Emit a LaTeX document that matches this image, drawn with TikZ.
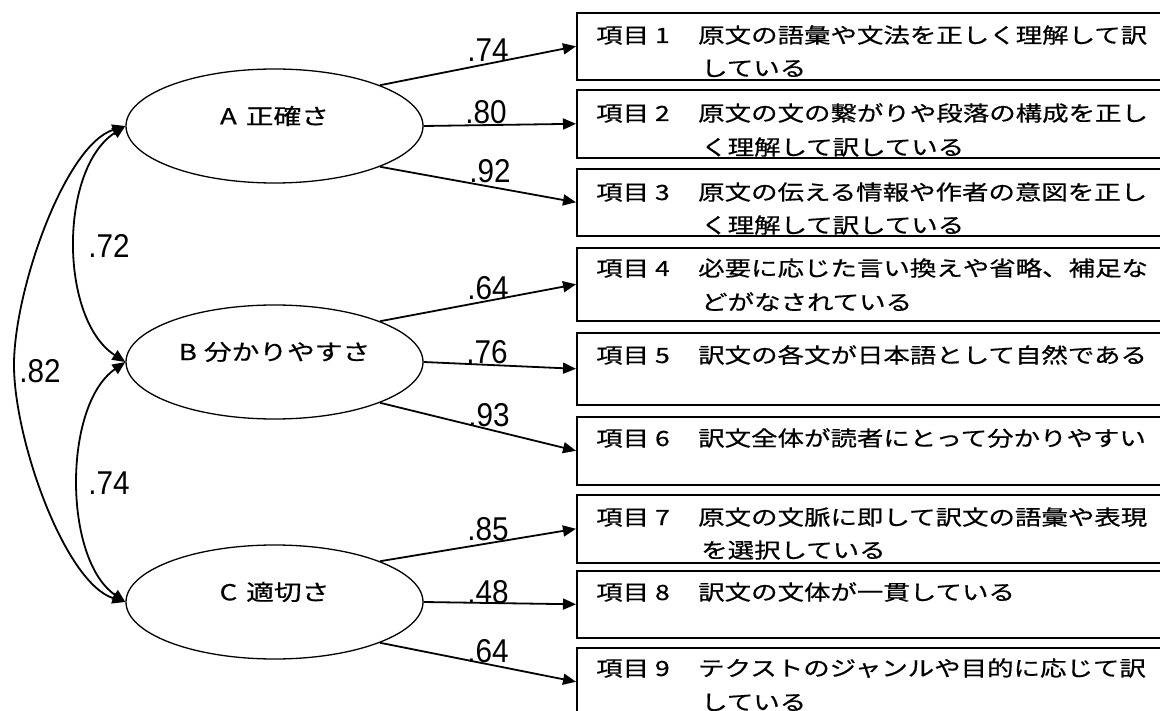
\documentclass[tikz,border=0pt]{standalone}
\usepackage{fontspec}
\setmainfont{Noto Sans CJK JP}[FakeStretch=1.26,FakeBold=0.6]
\newfontfamily\numfont{Liberation Sans}[FakeStretch=0.9]
\usetikzlibrary{arrows.meta,shapes.geometric}
\tikzset{
 ell/.style={draw, ellipse, line width=1.3pt, minimum width=297pt, minimum height=114pt, inner sep=0pt},
 itembox/.style={draw, rectangle, line width=1.6pt, minimum width=640pt, anchor=north west, inner sep=0pt},
 arr/.style={line width=1.8pt, -{Triangle[length=13pt,width=11pt]}},
 dbl/.style={line width=1.8pt, {Triangle[length=13pt,width=11pt]}-{Triangle[length=13pt,width=11pt]}},
 lat/.style={font=\fontsize{22pt}{26pt}\selectfont, inner sep=0pt},
 txt/.style={font=\fontsize{21pt}{26pt}\selectfont, anchor=base west, inner sep=0pt},
 num/.style={font=\numfont\fontsize{33pt}{36pt}\selectfont, anchor=base, inner sep=0pt},
}
\begin{document}
\begin{tikzpicture}[x=1pt,y=-1pt]
\useasboundingbox (0,0) rectangle (1160,711);
\clip (0,0) rectangle (1160,711);
% latent variables
\node[ell] (A) at (274.5,126) {};
\node[ell] (B) at (274.5,362) {};
\node[ell] (C) at (274.5,602) {};
\node[lat] (At) at ([yshift=10pt]A.center) {A\hspace{9pt}正確さ};
\node[lat] (Bt) at ([yshift=10pt]B.center) {B\hspace{7pt}分かりやすさ};
\node[lat] (Ct) at ([yshift=10pt]C.center) {C\hspace{9pt}適切さ};
% item boxes
\node[itembox, minimum height=67pt] (b1) at (576,12) {};
\node[itembox, minimum height=68pt] (b2) at (576,89) {};
\node[itembox, minimum height=67pt] (b3) at (576,168) {};
\node[itembox, minimum height=73pt] (b4) at (576,247) {};
\node[itembox, minimum height=72pt] (b5) at (576,332) {};
\node[itembox, minimum height=68pt] (b6) at (576,416) {};
\node[itembox, minimum height=68pt] (b7) at (576,494) {};
\node[itembox, minimum height=67pt] (b8) at (576,570) {};
\node[itembox, minimum height=68pt] (b9) at (576,647) {};
% item texts
\node[txt] (l1) at (596,43) {項目 1};
\node[txt] (t1a) at (698,43) {原文の語彙や文法を正しく理解して訳};
\node[txt] (t1b) at (701,76) {している};
\node[txt] (l2) at (596,121) {項目 2};
\node[txt] (t2a) at (698,121) {原文の文の繋がりや段落の構成を正し};
\node[txt] (t2b) at (701,155) {く理解して訳している};
\node[txt] (l3) at (596,200) {項目 3};
\node[txt] (t3a) at (698,200) {原文の伝える情報や作者の意図を正し};
\node[txt] (t3b) at (701,233) {く理解して訳している};
\node[txt] (l4) at (596,276) {項目 4};
\node[txt] (t4a) at (698,276) {必要に応じた言い換えや省略、補足な};
\node[txt] (t4b) at (701,310) {どがなされている};
\node[txt] (l5) at (596,363) {項目 5};
\node[txt] (t5a) at (698,363) {訳文の各文が日本語として自然である};
\node[txt] (l6) at (596,446) {項目 6};
\node[txt] (t6a) at (698,446) {訳文全体が読者にとって分かりやすい};
\node[txt] (l7) at (596,525) {項目 7};
\node[txt] (t7a) at (698,525) {原文の文脈に即して訳文の語彙や表現};
\node[txt] (t7b) at (701,558) {を選択している};
\node[txt] (l8) at (596,600) {項目 8};
\node[txt] (t8a) at (698,600) {訳文の文体が一貫している};
\node[txt] (l9) at (596,676) {項目 9};
\node[txt] (t9a) at (698,676) {テクストのジャンルや目的に応じて訳};
\node[txt] (t9b) at (701,710) {している};
% loadings
\draw[arr] (A.north east) -- (b1.west);
\draw[arr] (A.east) -- (b2.west);
\draw[arr] (A.south east) -- (b3.west);
\draw[arr] (B.north east) -- (b4.west);
\draw[arr] (B.east) -- (b5.west);
\draw[arr] (B.south east) -- (b6.west);
\draw[arr] (C.north east) -- (b7.west);
\draw[arr] (C.east) -- (b8.west);
\draw[arr] (C.south east) -- (b9.west);
% correlations
\coordinate (m82) at (14,365);
\draw[dbl] (A.west) .. controls (59,169) and (59,319) .. (B.west);
\draw[dbl] (B.west) .. controls (63,405) and (63,559) .. (C.west);
\draw[line width=1.8pt, {Triangle[length=13pt,width=11pt]}-] (A.west) .. controls (65,145) and (14,290) .. (m82);
\draw[line width=1.8pt, -{Triangle[length=13pt,width=11pt]}] (m82) .. controls (14,440) and (65,583) .. (C.west);
% coefficient labels
\node[num] (n1) at (488,62) {.74};
\node[num] (n2) at (486,124) {.80};
\node[num] (n3) at (490,183) {.92};
\node[num] (n4) at (488,300) {.64};
\node[num] (n5) at (487,364) {.76};
\node[num] (n6) at (489,426) {.93};
\node[num] (n7) at (488,540) {.85};
\node[num] (n8) at (488,603) {.48};
\node[num] (n9) at (488,662) {.64};
\node[num] (rAB) at (109,258) {.72};
\node[num] (rBC) at (109,494) {.74};
\node[num] (rAC) at (40,383) {.82};
\end{tikzpicture}
\end{document}
